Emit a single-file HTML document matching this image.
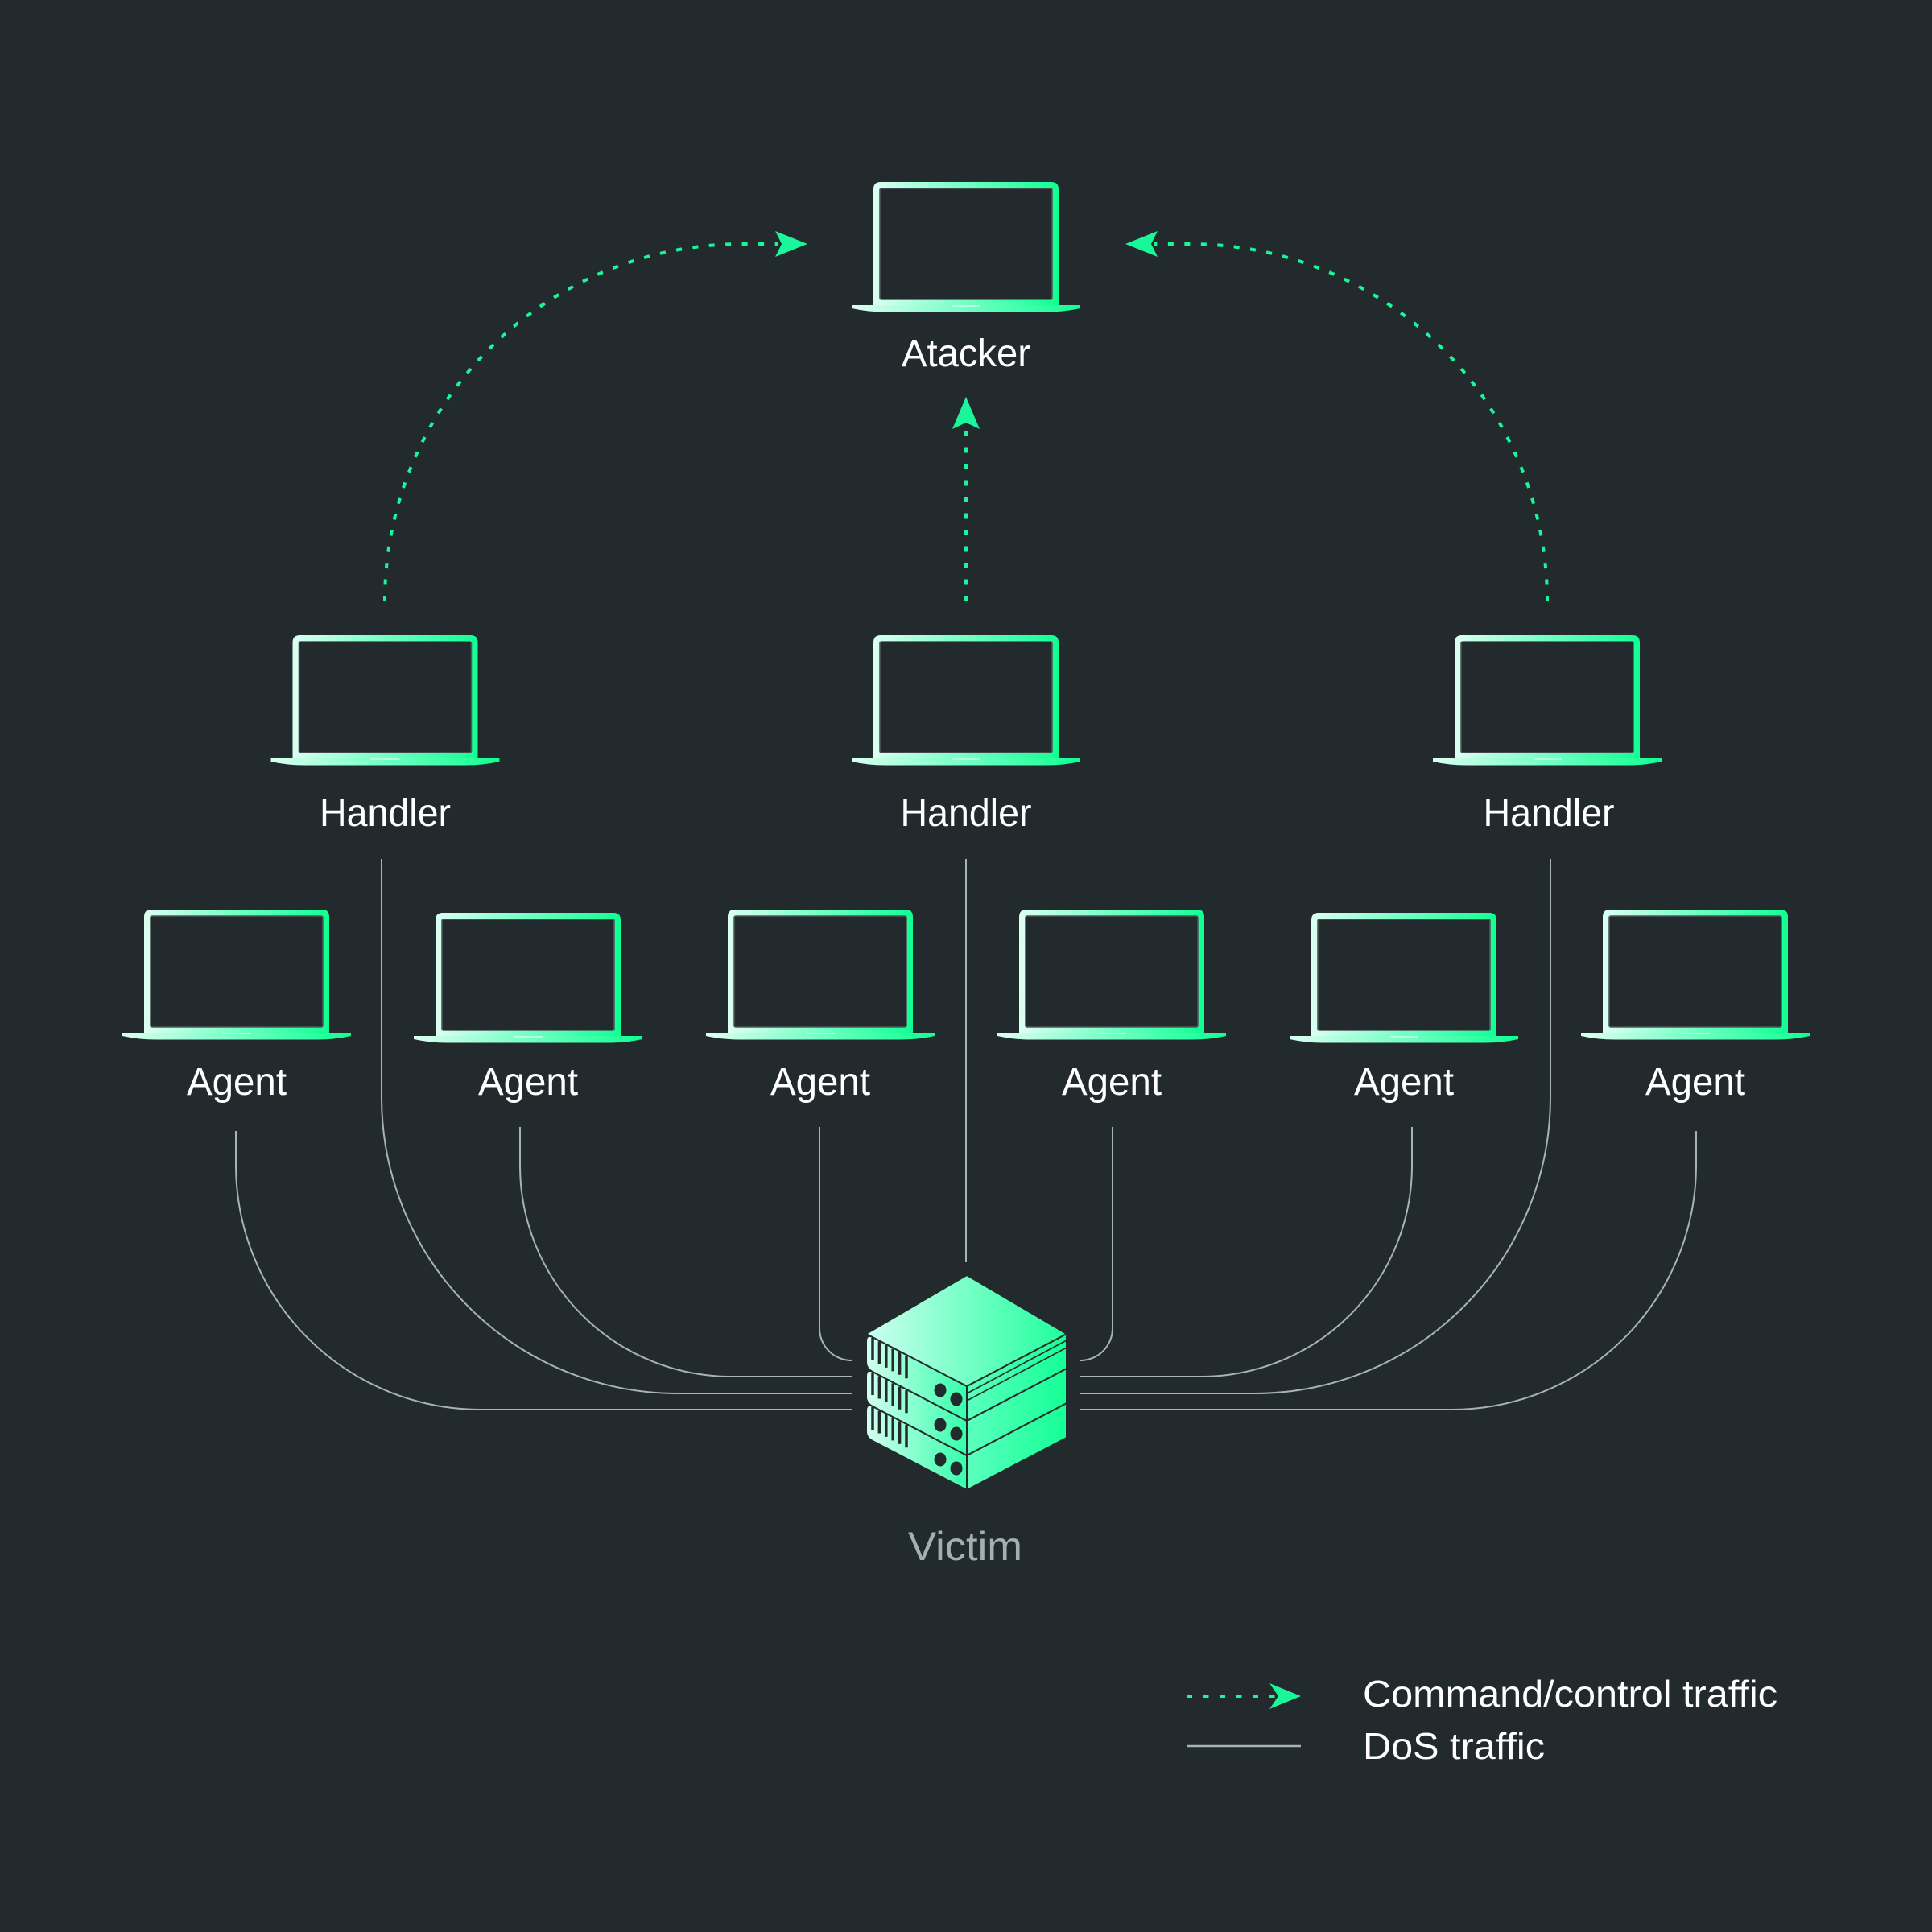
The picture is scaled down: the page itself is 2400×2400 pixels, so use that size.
<!DOCTYPE html>
<html>
<head>
<meta charset="utf-8">
<style>
  html,body{margin:0;padding:0;background:#232a2d;}
  svg{display:block;}
  text{font-family:"Liberation Sans", "DejaVu Sans", sans-serif;}
</style>
</head>
<body>
<svg width="2400" height="2400" viewBox="0 0 2400 2400" xmlns="http://www.w3.org/2000/svg">
  <defs>
    <linearGradient id="lg" x1="0" y1="0" x2="1" y2="0">
      <stop offset="0" stop-color="#dcfff2"/>
      <stop offset="0.5" stop-color="#72ffc4"/>
      <stop offset="1" stop-color="#10ff92"/>
    </linearGradient>
    <linearGradient id="gl" gradientUnits="userSpaceOnUse" x1="1076" y1="0" x2="1201" y2="0">
      <stop offset="0" stop-color="#d4fff0"/>
      <stop offset="1" stop-color="#34ffaa"/>
    </linearGradient>
    <linearGradient id="gr" gradientUnits="userSpaceOnUse" x1="1201" y1="0" x2="1325" y2="0">
      <stop offset="0" stop-color="#5cffbe"/>
      <stop offset="1" stop-color="#14ff95"/>
    </linearGradient>
    <linearGradient id="gt" gradientUnits="userSpaceOnUse" x1="1076" y1="0" x2="1325" y2="0">
      <stop offset="0" stop-color="#cefff0"/>
      <stop offset="1" stop-color="#1eff9c"/>
    </linearGradient>
    <g id="laptop">
      <path d="M -115 153 L -115 9 Q -115 0 -106 0 L 106 0 Q 115 0 115 9 L 115 153 Z" fill="url(#lg)"/>
      <rect x="-107" y="8" width="214" height="138" rx="2" fill="#232a2d" stroke="#4e5658" stroke-width="1.6"/>
      <path d="M -142 153 L 142 153 L 142 157 Q 122 161.5 100 161.5 L -100 161.5 Q -122 161.5 -142 157 Z" fill="url(#lg)"/>
      <rect x="-18" y="153" width="36" height="2" fill="#c8fff0" opacity="0.8"/>
    </g>
  </defs>

  <rect width="2400" height="2400" fill="#232a2d"/>

  <!-- Laptops -->
  <use href="#laptop" transform="translate(1200,226)"/>
  <use href="#laptop" transform="translate(478.5,789)"/>
  <use href="#laptop" transform="translate(1200,789)"/>
  <use href="#laptop" transform="translate(1922,789)"/>
  <use href="#laptop" transform="translate(294,1130)"/>
  <use href="#laptop" transform="translate(656,1134)"/>
  <use href="#laptop" transform="translate(1019,1130)"/>
  <use href="#laptop" transform="translate(1381,1130)"/>
  <use href="#laptop" transform="translate(1744,1134)"/>
  <use href="#laptop" transform="translate(2106,1130)"/>

  <!-- Command / control dotted -->
  <g fill="none" stroke="#19f79a" stroke-width="4" stroke-dasharray="7 13.5">
    <path d="M 478 747 A 444 444 0 0 1 922 303 L 966 303"/>
    <path d="M 1922 747 A 444 444 0 0 0 1478 303 L 1434 303"/>
    <path d="M 1200 747 L 1200 528"/>
    <path d="M 1474 2107 L 1588 2107"/>
  </g>
  <g fill="#19f79a">
    <path d="M 1003 303 L 963 287 L 971 303 L 963 319 Z"/>
    <path d="M 1398 303 L 1438 287 L 1430 303 L 1438 319 Z"/>
    <path d="M 1200 493 L 1183 533 L 1200 525 L 1217 533 Z"/>
    <path d="M 1616 2107 L 1577 2091 L 1588 2107 L 1577 2123 Z"/>
  </g>

  <!-- DoS lines -->
  <g fill="none" stroke="#a9b3b2" stroke-width="2">
    <path d="M 293 1405 L 293 1447 A 304 304 0 0 0 597 1751 L 1058 1751"/>
    <path d="M 474 1067 L 474 1363 A 368 368 0 0 0 842 1731 L 1058 1731"/>
    <path d="M 646 1400 L 646 1448 A 262 262 0 0 0 908 1710 L 1058 1710"/>
    <path d="M 1018 1400 L 1018 1650 A 40 40 0 0 0 1058 1690"/>
    <path d="M 1200 1067 L 1200 1568"/>
    <path d="M 1382 1400 L 1382 1650 A 40 40 0 0 1 1342 1690"/>
    <path d="M 1754 1400 L 1754 1448 A 262 262 0 0 1 1492 1710 L 1342 1710"/>
    <path d="M 1926 1067 L 1926 1363 A 368 368 0 0 1 1558 1731 L 1342 1731"/>
    <path d="M 2107 1405 L 2107 1447 A 304 304 0 0 1 1803 1751 L 1342 1751"/>
    <path d="M 1474 2169 L 1616 2169" stroke-width="2.5"/>
  </g>

  <!-- Server stack -->
  <g stroke="#232a2d" stroke-width="2" stroke-linejoin="round">
    <!-- box 3 (bottom) -->
    <path d="M 1084 1747 L 1201 1808 L 1201 1851 L 1084 1790 Q 1076 1786 1076 1778 L 1076 1753 Q 1076 1743 1084 1747 Z" fill="url(#gl)"/>
    <path d="M 1201 1808 L 1325 1743 L 1325 1786 L 1201 1851 Z" fill="url(#gr)"/>
    <!-- box 2 -->
    <path d="M 1084 1704 L 1201 1765 L 1201 1808 L 1084 1747 Q 1076 1743 1076 1735 L 1076 1710 Q 1076 1700 1084 1704 Z" fill="url(#gl)"/>
    <path d="M 1201 1765 L 1325 1700 L 1325 1743 L 1201 1808 Z" fill="url(#gr)"/>
    <!-- box 1 (top) -->
    <path d="M 1084 1661 L 1201 1722 L 1201 1765 L 1084 1704 Q 1076 1700 1076 1692 L 1076 1667 Q 1076 1657 1084 1661 Z" fill="url(#gl)"/>
    <path d="M 1201 1722 L 1325 1657 L 1325 1700 L 1201 1765 Z" fill="url(#gr)"/>
    <path d="M 1201 1584 L 1325 1657 L 1201 1722 L 1076 1657 Z" fill="url(#gt)"/>
  </g>
  <g stroke="#232a2d" stroke-width="1.6" fill="none">
    <path d="M 1203 1730 L 1325 1665"/>
    <path d="M 1203 1739 L 1325 1674"/>
  </g>
  <!-- vents -->
  <g stroke="#232a2d" stroke-width="3.5" stroke-linecap="butt">
    <path d="M1084 1662 v28 M1092.4 1666.5 v28 M1100.8 1670.9 v28 M1109.2 1675.4 v28 M1117.6 1679.8 v28 M1126 1684.3 v28"/>
    <path d="M1084 1705 v28 M1092.4 1709.5 v28 M1100.8 1713.9 v28 M1109.2 1718.4 v28 M1117.6 1722.8 v28 M1126 1727.3 v28"/>
    <path d="M1084 1748 v28 M1092.4 1752.5 v28 M1100.8 1756.9 v28 M1109.2 1761.4 v28 M1117.6 1765.8 v28 M1126 1770.3 v28"/>
  </g>
  <g fill="#232a2d">
    <ellipse cx="1168" cy="1727" rx="7.5" ry="8.5"/>
    <ellipse cx="1188" cy="1738" rx="7.5" ry="8.5"/>
    <ellipse cx="1168" cy="1770" rx="7.5" ry="8.5"/>
    <ellipse cx="1188" cy="1781" rx="7.5" ry="8.5"/>
    <ellipse cx="1168" cy="1813" rx="7.5" ry="8.5"/>
    <ellipse cx="1188" cy="1824" rx="7.5" ry="8.5"/>
  </g>

  <!-- Labels -->
  <g fill="#ffffff" font-size="48" text-anchor="middle">
    <text x="1200" y="455" textLength="160" lengthAdjust="spacingAndGlyphs">Atacker</text>
    <text x="478.5" y="1026" textLength="163" lengthAdjust="spacingAndGlyphs">Handler</text>
    <text x="1200" y="1026" textLength="163" lengthAdjust="spacingAndGlyphs">Handler</text>
    <text x="1924" y="1026" textLength="163" lengthAdjust="spacingAndGlyphs">Handler</text>
    <text x="294" y="1360" textLength="124" lengthAdjust="spacingAndGlyphs">Agent</text>
    <text x="656" y="1360" textLength="124" lengthAdjust="spacingAndGlyphs">Agent</text>
    <text x="1019" y="1360" textLength="124" lengthAdjust="spacingAndGlyphs">Agent</text>
    <text x="1381" y="1360" textLength="124" lengthAdjust="spacingAndGlyphs">Agent</text>
    <text x="1744" y="1360" textLength="124" lengthAdjust="spacingAndGlyphs">Agent</text>
    <text x="2106" y="1360" textLength="124" lengthAdjust="spacingAndGlyphs">Agent</text>
  </g>
  <text x="1199" y="1938" font-size="50" fill="#a3b0b0" text-anchor="middle" textLength="142" lengthAdjust="spacingAndGlyphs">Victim</text>
  <g fill="#ffffff" font-size="46">
    <text x="1693" y="2120" textLength="515" lengthAdjust="spacingAndGlyphs">Command/control traffic</text>
    <text x="1693" y="2185" textLength="226" lengthAdjust="spacingAndGlyphs">DoS traffic</text>
  </g>
</svg>
</body>
</html>
